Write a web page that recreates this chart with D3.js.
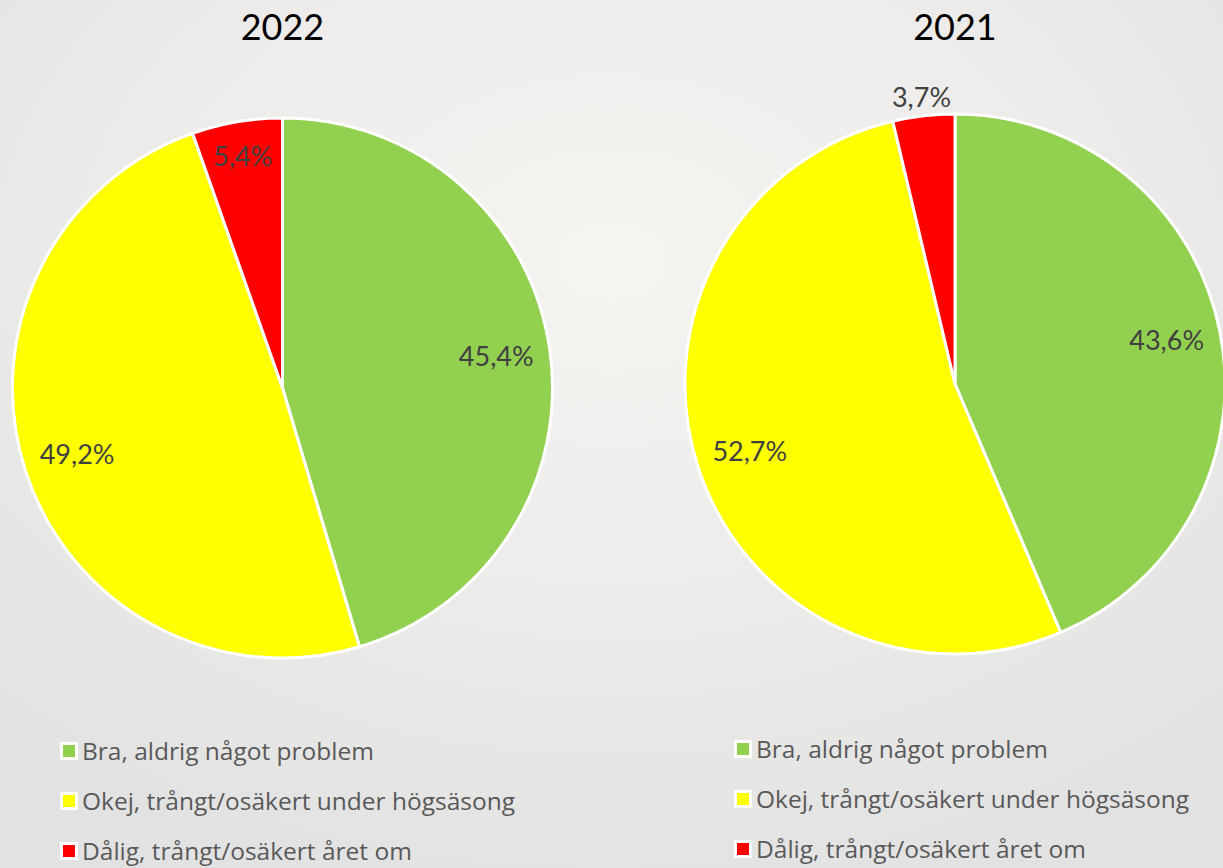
<!DOCTYPE html>
<html>
<head>
<meta charset="utf-8">
<script src="https://cdn.jsdelivr.net/npm/d3@7"></script>
<style>
  html, body { margin: 0; padding: 0; overflow: hidden; }
  svg { display: block; }
</style>
</head>
<body>
<svg width="1223" height="868"></svg>
<script>
// data
const categories = ['Bra, aldrig något problem', 'Okej, trångt/osäkert under högsäsong', 'Dålig, trångt/osäkert året om'];
const years = ['2022', '2021'];
const values2022 = [45.4, 49.2, 5.4];
const values2021 = [43.6, 52.7, 3.7];
const colors = ['#92d050', '#ffff00', '#ff0000'];

const svg = d3.select('svg');
const width = +svg.attr('width');
const height = +svg.attr('height');

// faded background, roughly like the photo
const defs = svg.append('defs');
const bg = defs.append('radialGradient').attr('id', 'bg')
    .attr('cx', '0.5').attr('cy', '0.3').attr('r', '0.75');
bg.append('stop').attr('offset', '0%').attr('stop-color', '#f6f4f1');
bg.append('stop').attr('offset', '45%').attr('stop-color', '#eeedeb');
bg.append('stop').attr('offset', '100%').attr('stop-color', '#e2e2e2');
svg.append('rect').attr('width', width).attr('height', height).attr('fill', 'url(#bg)');

const fmt = d3.formatLocale({decimal: ',', thousands: ' ', grouping: [3], currency: ['', '']}).format('.1f');

const pie = d3.pie().sort(null).value(d => d);
const r = 270;
const arc = d3.arc().innerRadius(0).outerRadius(r);

const charts = [
    {year: years[0], values: values2022, cx: 282.5, cy: 388, legendX: 60, legendY: 751},
    {year: years[1], values: values2021, cx: 955, cy: 384, legendX: 734, legendY: 749}
];

charts.forEach(c => {
    svg.append('text')
        .attr('x', c.cx).attr('y', 40)
        .attr('text-anchor', 'middle')
        .style('font-family', 'Lato, sans-serif')
        .style('font-size', '36px')
        .attr('fill', '#000')
        .text(c.year);

    const g = svg.append('g').attr('transform', `translate(${c.cx},${c.cy})`);
    const arcs = pie(c.values);

    g.selectAll('path')
        .data(arcs)
        .enter().append('path')
            .attr('d', arc)
            .attr('fill', (d, i) => colors[i])
            .attr('stroke', '#fff')
            .attr('stroke-width', 3)
            .attr('stroke-linejoin', 'round');

    // small slices get pushed out, like excel's best fit
    const labelR = d => {
        if (d.value < 4.5) return r * 1.07;
        if (d.value < 10) return r * 0.87;
        return r * 0.8;
    };

    g.selectAll('text.lbl')
        .data(arcs)
        .enter().append('text')
            .attr('class', 'lbl')
            .attr('transform', d => {
                const a = (d.startAngle + d.endAngle) / 2;
                const lr = labelR(d);
                return `translate(${Math.sin(a) * lr},${-Math.cos(a) * lr})`;
            })
            .attr('text-anchor', 'middle')
            .attr('dy', '0.35em')
            .style('font-family', 'Lato, sans-serif')
            .style('font-size', '27px')
            .attr('fill', '#404040')
            .text(d => fmt(d.value) + '%');

    const leg = svg.append('g').attr('transform', `translate(${c.legendX},${c.legendY})`);
    const items = leg.selectAll('g')
        .data(categories)
        .enter().append('g')
            .attr('transform', (d, i) => `translate(0,${i * 50})`);

    items.append('rect')
        .attr('x', 0).attr('y', -9)
        .attr('width', 18).attr('height', 18)
        .attr('fill', '#fff');
    items.append('rect')
        .attr('x', 3).attr('y', -6)
        .attr('width', 12).attr('height', 12)
        .attr('fill', (d, i) => colors[i]);
    items.append('text')
        .attr('x', 22).attr('dy', '0.35em')
        .style('font-family', '"Open Sans", sans-serif')
        .style('font-size', '24.5px')
        .attr('fill', '#595959')
        .text(d => d);
});
</script>
</body>
</html>
